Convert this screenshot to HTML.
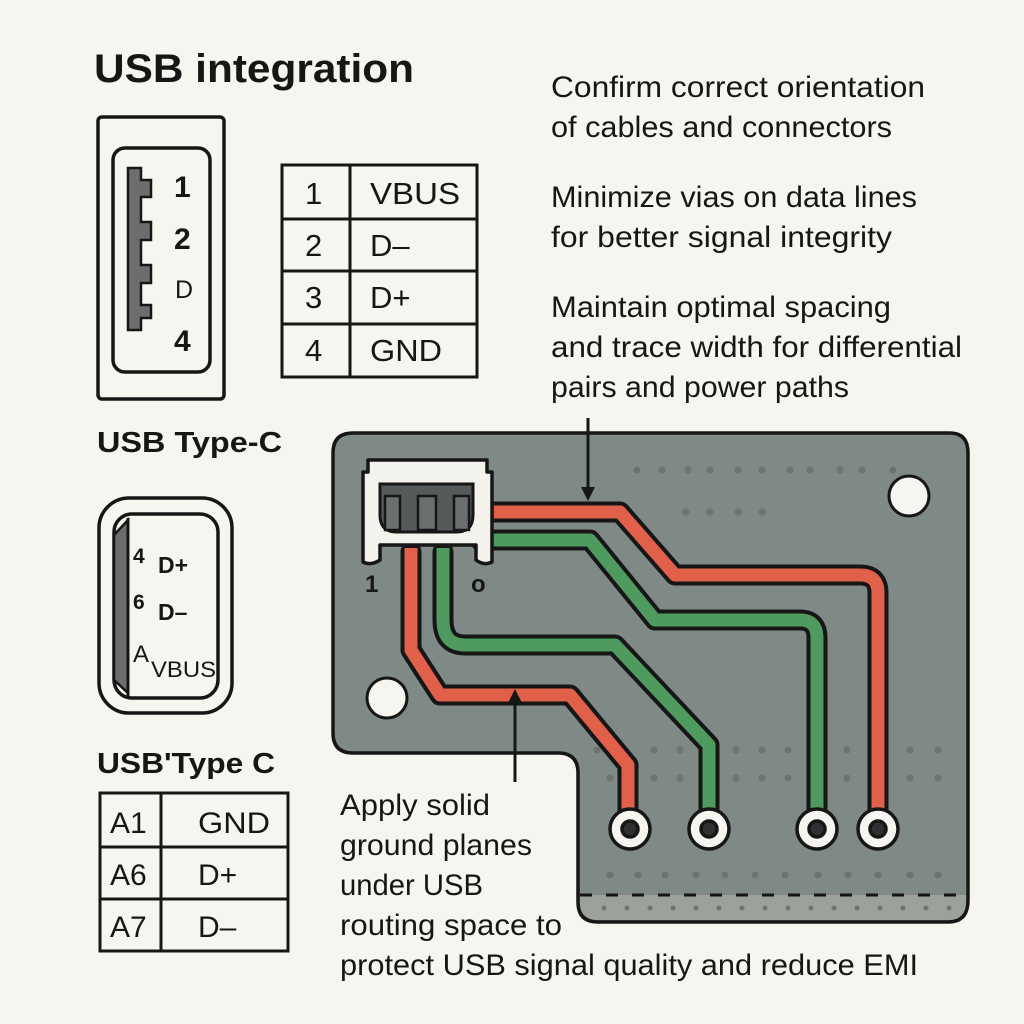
<!DOCTYPE html>
<html><head><meta charset="utf-8"><style>
html,body{margin:0;padding:0;background:#f7f5ef;}
svg{display:block}
text{font-family:"Liberation Sans","DejaVu Sans",sans-serif;fill:#161616}
</style></head><body>
<svg width="1024" height="1024" viewBox="0 0 1024 1024" xmlns="http://www.w3.org/2000/svg">
<rect width="1024" height="1024" fill="#f7f5ef"/>
<text x="94" y="82" font-size="40" font-weight="bold" textLength="320" lengthAdjust="spacingAndGlyphs">USB integration</text>

<!-- USB-A -->
<rect x="98" y="117" width="126" height="282" rx="4" fill="none" stroke="#161616" stroke-width="3.5"/>
<rect x="113" y="148" width="97" height="224" rx="12" fill="none" stroke="#161616" stroke-width="3.5"/>
<path d="M128,168 H141 V180 H151 V197 H141 V222 H151 V240 H141 V265 H151 V283 H141 V305 H151 V318 H141 V330 H128 Z" fill="#6b6e6c" stroke="#161616" stroke-width="2.5"/>
<text x="174" y="197" font-size="30" font-weight="bold">1</text>
<text x="174" y="249" font-size="30" font-weight="bold">2</text>
<text x="175" y="298" font-size="25">D</text>
<text x="174" y="351" font-size="30" font-weight="bold">4</text>

<!-- Table 1 -->
<g stroke="#161616" stroke-width="3" fill="none">
<rect x="282" y="165" width="195" height="212"/>
<line x1="350" y1="165" x2="350" y2="377"/>
<line x1="282" y1="219" x2="477" y2="219"/>
<line x1="282" y1="271" x2="477" y2="271"/>
<line x1="282" y1="324" x2="477" y2="324"/>
</g>
<g font-size="31">
<text x="305" y="204">1</text><text x="370" y="204" textLength="90" lengthAdjust="spacingAndGlyphs">VBUS</text>
<text x="305" y="256">2</text><text x="370" y="256">D–</text>
<text x="305" y="308">3</text><text x="370" y="308">D+</text>
<text x="305" y="361">4</text><text x="370" y="361" textLength="72" lengthAdjust="spacingAndGlyphs">GND</text>
</g>

<text x="97" y="452" font-size="29" font-weight="bold" textLength="185" lengthAdjust="spacingAndGlyphs">USB Type-C</text>

<!-- Type-C -->
<rect x="99" y="498" width="133" height="215" rx="30" fill="none" stroke="#161616" stroke-width="3.5"/>
<rect x="114" y="514" width="104" height="184" rx="18" fill="none" stroke="#161616" stroke-width="3.5"/>
<path d="M128,520 L114,535 L114,680 L128,693 Z" fill="#6b6e6c" stroke="#161616" stroke-width="2.5"/>
<line x1="128" y1="518" x2="128" y2="696" stroke="#161616" stroke-width="3"/>
<text x="133" y="563" font-size="21" font-weight="bold">4</text>
<text x="158" y="573" font-size="23" font-weight="bold">D+</text>
<text x="133" y="609" font-size="21" font-weight="bold">6</text>
<text x="158" y="620" font-size="23" font-weight="bold">D–</text>
<text x="133" y="662" font-size="24">A</text>
<text x="151" y="677" font-size="22" textLength="65" lengthAdjust="spacingAndGlyphs">VBUS</text>

<text x="97" y="773" font-size="29" font-weight="bold" textLength="178" lengthAdjust="spacingAndGlyphs">USB'Type C</text>
<!-- Table 2 -->
<g stroke="#161616" stroke-width="3" fill="none">
<rect x="100" y="793" width="188" height="158"/>
<line x1="161" y1="793" x2="161" y2="951"/>
<line x1="100" y1="847" x2="288" y2="847"/>
<line x1="100" y1="899" x2="288" y2="899"/>
</g>
<g font-size="30">
<text x="110" y="833">A1</text><text x="198" y="833" textLength="72" lengthAdjust="spacingAndGlyphs">GND</text>
<text x="110" y="885">A6</text><text x="198" y="885">D+</text>
<text x="110" y="937">A7</text><text x="198" y="937">D–</text>
</g>

<!-- right notes -->
<g font-size="30">
<text x="551" y="97" textLength="374" lengthAdjust="spacingAndGlyphs">Confirm correct orientation</text>
<text x="551" y="137" textLength="341" lengthAdjust="spacingAndGlyphs">of cables and connectors</text>
<text x="551" y="207" textLength="366" lengthAdjust="spacingAndGlyphs">Minimize vias on data lines</text>
<text x="551" y="247" textLength="341" lengthAdjust="spacingAndGlyphs">for better signal integrity</text>
<text x="551" y="317" textLength="340" lengthAdjust="spacingAndGlyphs">Maintain optimal spacing</text>
<text x="551" y="357" textLength="411" lengthAdjust="spacingAndGlyphs">and trace width for differential</text>
<text x="551" y="397" textLength="298" lengthAdjust="spacingAndGlyphs">pairs and power paths</text>
</g>

<!-- PCB -->
<path d="M353,433 H950 Q968,433 968,453 V900 Q968,922 948,922 H598 Q578,922 578,902 V773 Q578,753 558,753 H353 Q333,753 333,733 V453 Q333,433 353,433 Z" fill="#7f8985" stroke="#161616" stroke-width="3.5"/>
<path d="M580,895 H966 V902 Q966,920 948,920 H598 Q580,920 580,902 Z" fill="#9ca19a"/>
<line x1="580" y1="895" x2="966" y2="895" stroke="#161616" stroke-width="3" stroke-dasharray="12,14"/>
<g fill="#6c7470">
<circle cx="637" cy="470" r="3.5"/><circle cx="662" cy="470" r="3.5"/><circle cx="688" cy="470" r="3.5"/><circle cx="710" cy="470" r="3.5"/><circle cx="738" cy="470" r="3.5"/><circle cx="762" cy="470" r="3.5"/><circle cx="790" cy="470" r="3.5"/><circle cx="810" cy="470" r="3.5"/><circle cx="840" cy="470" r="3.5"/><circle cx="862" cy="470" r="3.5"/><circle cx="893" cy="470" r="3.5"/>
<circle cx="686" cy="512" r="3.5"/><circle cx="710" cy="512" r="3.5"/><circle cx="738" cy="512" r="3.5"/><circle cx="762" cy="512" r="3.5"/>
<circle cx="597" cy="750" r="3.5"/><circle cx="654" cy="750" r="3.5"/><circle cx="680" cy="750" r="3.5"/><circle cx="736" cy="750" r="3.5"/><circle cx="762" cy="750" r="3.5"/><circle cx="788" cy="750" r="3.5"/><circle cx="847" cy="750" r="3.5"/><circle cx="910" cy="750" r="3.5"/><circle cx="938" cy="750" r="3.5"/>
<circle cx="610" cy="778" r="3.5"/><circle cx="654" cy="778" r="3.5"/><circle cx="680" cy="778" r="3.5"/><circle cx="736" cy="778" r="3.5"/><circle cx="762" cy="778" r="3.5"/><circle cx="788" cy="778" r="3.5"/><circle cx="847" cy="778" r="3.5"/><circle cx="910" cy="778" r="3.5"/><circle cx="938" cy="778" r="3.5"/>
<circle cx="610" cy="875" r="3.5"/><circle cx="638" cy="875" r="3.5"/><circle cx="665" cy="875" r="3.5"/><circle cx="696" cy="875" r="3.5"/><circle cx="725" cy="875" r="3.5"/><circle cx="755" cy="875" r="3.5"/><circle cx="785" cy="875" r="3.5"/><circle cx="818" cy="875" r="3.5"/><circle cx="848" cy="875" r="3.5"/><circle cx="878" cy="875" r="3.5"/><circle cx="910" cy="875" r="3.5"/><circle cx="938" cy="875" r="3.5"/>
</g>
<g fill="#6f746e">
<circle cx="604" cy="908" r="2.5"/><circle cx="627" cy="908" r="2.5"/><circle cx="650" cy="908" r="2.5"/><circle cx="673" cy="908" r="2.5"/><circle cx="696" cy="908" r="2.5"/><circle cx="719" cy="908" r="2.5"/><circle cx="742" cy="908" r="2.5"/><circle cx="765" cy="908" r="2.5"/><circle cx="788" cy="908" r="2.5"/><circle cx="811" cy="908" r="2.5"/><circle cx="834" cy="908" r="2.5"/><circle cx="857" cy="908" r="2.5"/><circle cx="880" cy="908" r="2.5"/><circle cx="903" cy="908" r="2.5"/><circle cx="926" cy="908" r="2.5"/><circle cx="949" cy="908" r="2.5"/>
</g>
<circle cx="909" cy="496" r="20" fill="#f7f5ef" stroke="#161616" stroke-width="3"/>
<circle cx="387" cy="698" r="20" fill="#f7f5ef" stroke="#161616" stroke-width="3"/>

<!-- traces: outlines -->
<g fill="none" stroke="#161616" stroke-width="21" stroke-linejoin="round" stroke-linecap="round">
<path d="M480,512 H620 L675,575 H860 Q878,575 878,593 V815"/>
<path d="M480,540 H590 L655,620 H800 Q817,620 817,638 V815"/>
<path d="M411,552 V650 L440,695 H570 L628,765 V815"/>
<path d="M443,552 V620 Q443,645 465,645 H615 L709,745 V815"/>
</g>
<g fill="none" stroke-width="13" stroke-linejoin="round">
<path d="M480,512 H620 L675,575 H860 Q878,575 878,593 V815" stroke="#e0604a"/>
<path d="M480,540 H590 L655,620 H800 Q817,620 817,638 V815" stroke="#4f9a5f"/>
<path d="M411,548 V650 L440,695 H570 L628,765 V815" stroke="#e0604a"/>
<path d="M443,548 V620 Q443,645 465,645 H615 L709,745 V815" stroke="#4f9a5f"/>
</g>
<g stroke="#161616" stroke-width="3.5">
<circle cx="630" cy="829" r="20" fill="#f7f5ef"/><circle cx="630" cy="829" r="8" fill="#2e3130"/>
<circle cx="709" cy="829" r="20" fill="#f7f5ef"/><circle cx="709" cy="829" r="8" fill="#2e3130"/>
<circle cx="817" cy="829" r="20" fill="#f7f5ef"/><circle cx="817" cy="829" r="8" fill="#2e3130"/>
<circle cx="878" cy="829" r="20" fill="#f7f5ef"/><circle cx="878" cy="829" r="8" fill="#2e3130"/>
</g>

<!-- connector -->
<path d="M368,460 H487 V472 H492 V562 Q484,566 476,560 V545 H380 V560 Q371,566 363,562 V472 H368 Z" fill="#f4f2ec" stroke="#161616" stroke-width="3.5" stroke-linejoin="round"/>
<path d="M380,484 H473 V515 Q473,532 456,532 H397 Q380,532 380,515 Z" fill="#565a5b" stroke="#161616" stroke-width="3"/>
<path d="M385,496 H400 V530 H385 Z M418,496 H436 V530 H418 Z M454,496 H469 V530 H454 Z" fill="#6b6f70" stroke="#161616" stroke-width="2.5"/>
<text x="365" y="592" font-size="24" font-weight="bold" fill="#1e1e1e">1</text>
<text x="471" y="592" font-size="24" font-weight="bold" fill="#1e1e1e">o</text>

<!-- arrows -->
<line x1="588" y1="418" x2="588" y2="490" stroke="#161616" stroke-width="3"/>
<path d="M581,487 L595,487 L588,501 Z" fill="#161616"/>
<line x1="515" y1="782" x2="515" y2="700" stroke="#161616" stroke-width="3"/>
<path d="M508,703 L522,703 L515,689 Z" fill="#161616"/>

<g font-size="30">
<text x="340" y="815" textLength="150" lengthAdjust="spacingAndGlyphs">Apply solid</text>
<text x="340" y="855" textLength="192" lengthAdjust="spacingAndGlyphs">ground planes</text>
<text x="340" y="895" textLength="143" lengthAdjust="spacingAndGlyphs">under USB</text>
<text x="340" y="935" textLength="222" lengthAdjust="spacingAndGlyphs">routing space to</text>
<text x="340" y="975" textLength="578" lengthAdjust="spacingAndGlyphs">protect USB signal quality and reduce EMI</text>
</g>
</svg>
</body></html>
